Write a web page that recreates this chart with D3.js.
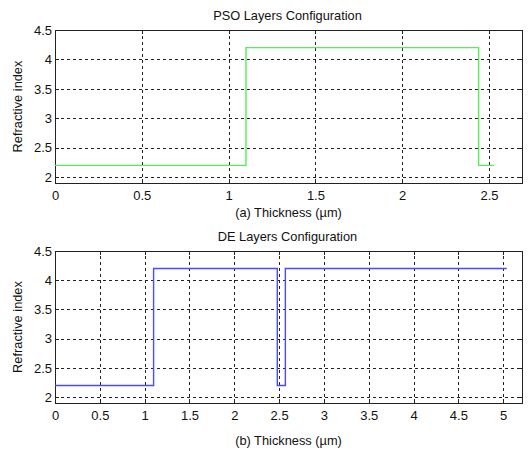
<!DOCTYPE html>
<meta charset="utf-8">
<style>
  html, body { margin: 0; padding: 0; background: #fff; overflow: hidden; }
  svg { font-family: "Liberation Sans", Arial, sans-serif; }
  .axis text { font-size: 13px; fill: #111; }
  .axis path { display: none; }
  .axis line { stroke: #222; shape-rendering: crispEdges; }
  .grid line { stroke: #222; stroke-dasharray: 3,3; shape-rendering: crispEdges; }
  .grid path { display: none; }
  .title, .label { font-size: 12.8px; fill: #111; }
</style>
<svg width="531" height="451"></svg>
<script src="https://d3js.org/d3.v7.min.js"></script>
<script>

// PSO layer stack (step boundaries in um, refractive index)
var psoThickness = [0, 1.1, 2.44, 2.53];
var psoIndex = [2.2, 4.2, 2.2, 2.2];

// DE layer stack
var deThickness = [0, 1.1, 2.48, 2.57, 5.04];
var deIndex = [2.2, 4.2, 2.2, 4.2, 4.2];

var psoTicksX = [0, 0.5, 1, 1.5, 2, 2.5];
var deTicksX = [0, 0.5, 1, 1.5, 2, 2.5, 3, 3.5, 4, 4.5, 5];
var ticksY = [2, 2.5, 3, 3.5, 4, 4.5];

var svg = d3.select("svg");

function panel(opts) {
  var left = 55, right = 522;
  var width = right - left, height = opts.bottom - opts.top;
  var g = svg.append("g").attr("transform", "translate(" + left + "," + opts.top + ")");

  var x = d3.scaleLinear().domain(opts.xdom).range([0, width]);
  var y = d3.scaleLinear().domain([1.9, 4.5]).range([height, 0]);

  // grid
  g.append("g").attr("class", "grid")
    .attr("transform", "translate(0," + height + ")")
    .call(d3.axisBottom(x).tickValues(opts.xticks).tickSize(-height).tickFormat(""));
  g.append("g").attr("class", "grid")
    .call(d3.axisLeft(y).tickValues(ticksY).tickSize(-width).tickFormat(""));

  // ticks + labels
  g.append("g").attr("class", "axis")
    .attr("transform", "translate(0," + height + ")")
    .call(d3.axisBottom(x).tickValues(opts.xticks).tickSizeInner(-4).tickSizeOuter(0).tickPadding(8)
      .tickFormat(d3.format("")));
  g.append("g").attr("class", "axis")
    .call(d3.axisTop(x).tickValues(opts.xticks).tickSizeInner(-4).tickSizeOuter(0).tickFormat(""));
  g.append("g").attr("class", "axis")
    .call(d3.axisLeft(y).tickValues(ticksY).tickSizeInner(-4).tickSizeOuter(0).tickPadding(3)
      .tickFormat(d3.format("")));
  g.append("g").attr("class", "axis")
    .attr("transform", "translate(" + width + ",0)")
    .call(d3.axisRight(y).tickValues(ticksY).tickSizeInner(-4).tickSizeOuter(0).tickFormat(""));

  // box
  g.append("rect").attr("x", 0.5).attr("y", 0.5).attr("width", width).attr("height", height)
    .attr("fill", "none").attr("stroke", "#222").attr("stroke-width", 1);

  var pts = opts.xs.map(function(d, i) { return [d, opts.ys[i]]; });
  g.append("path")
    .datum(pts)
    .attr("fill", "none")
    .attr("stroke", opts.color)
    .attr("stroke-width", 1.4)
    .attr("d", d3.line().x(function(d) { return x(d[0]); }).y(function(d) { return y(d[1]); })
      .curve(d3.curveStepAfter));

  svg.append("text").attr("class", "title")
    .attr("x", left + width / 2 - 1).attr("y", opts.top - 10)
    .attr("text-anchor", "middle").text(opts.title);

  svg.append("text").attr("class", "label")
    .attr("x", left + width / 2).attr("y", opts.xlabelY)
    .attr("text-anchor", "middle").text(opts.xlabel);

  svg.append("text").attr("class", "label")
    .attr("transform", "translate(22," + (opts.top + height / 2) + ") rotate(-90)")
    .attr("text-anchor", "middle").text("Refractive index");
}

panel({ top: 30, bottom: 183, xdom: [0, 2.69], xticks: psoTicksX,
  xs: psoThickness, ys: psoIndex, color: "#55ee55",
  title: "PSO Layers Configuration", xlabel: "(a) Thickness (\u00b5m)", xlabelY: 217 });

panel({ top: 251, bottom: 403, xdom: [0, 5.21], xticks: deTicksX,
  xs: deThickness, ys: deIndex, color: "#4a4aff",
  title: "DE Layers Configuration", xlabel: "(b) Thickness (\u00b5m)", xlabelY: 445 });

</script>
